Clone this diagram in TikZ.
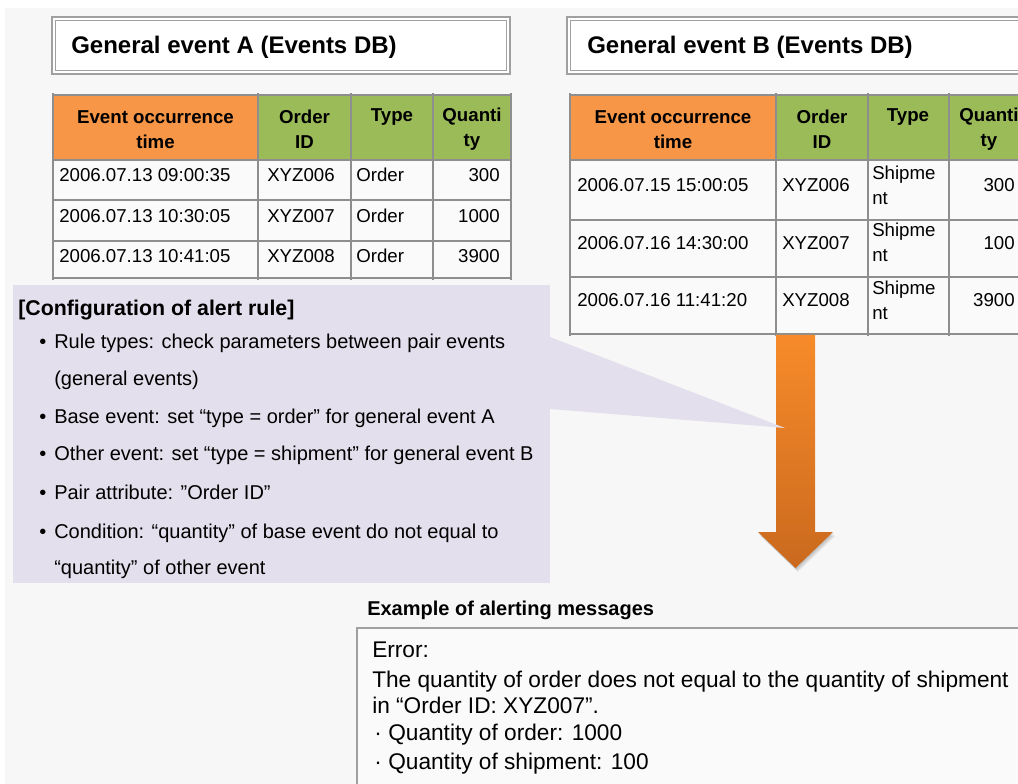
\documentclass[tikz,border=0pt]{standalone}
\usepackage{fontspec}
\setmainfont{Liberation Sans}
\definecolor{pagebg}{HTML}{F7F7F7}
\definecolor{cellbg}{HTML}{FAFAFA}
\definecolor{hdrorange}{HTML}{F79646}
\definecolor{hdrgreen}{HTML}{9BBB59}
\definecolor{gridgray}{HTML}{8E8E8E}
\definecolor{boxgray}{HTML}{A0A0A0}
\definecolor{lav}{HTML}{E4DFEC}
\definecolor{arrowtop}{HTML}{F78B2A}
\definecolor{arrowbot}{HTML}{CA691E}
\begin{document}
\begin{tikzpicture}[x=0.75pt,y=-0.75pt,
  dbtitle/.style={font=\fontsize{18}{22}\selectfont\bfseries, anchor=base west, inner sep=0pt},
  hdrtext/.style={font=\fontsize{14}{18.75}\selectfont\bfseries, align=center, inner sep=0pt},
  celltext/.style={font=\fontsize{14}{18}\selectfont, inner sep=0pt, anchor=base west},
  numtext/.style={celltext, anchor=base east},
  grid/.style={draw=gridgray, line width=1.5pt},
  ruletitle/.style={font=\fontsize{16}{20}\selectfont\bfseries, inner sep=0pt, anchor=base west},
  ruletext/.style={font=\fontsize{15}{18}\selectfont, inner sep=0pt, anchor=base west},
  msghead/.style={font=\fontsize{15}{18}\selectfont\bfseries, inner sep=0pt, anchor=base west},
  msgtext/.style={font=\fontsize{17}{20}\selectfont, inner sep=0pt, anchor=base west},
]
\useasboundingbox (0,0) rectangle (1018,784);
\clip (0,0) rectangle (1018,784);
% page
\fill[white] (0,0) rectangle (1018,784);
\fill[pagebg] (5,8) rectangle (1018,784);

% ---------- title boxes ----------
\fill[white] (52,17) rectangle (510,74);
\draw[boxgray, line width=1.4pt] (52,17) rectangle (510,74);
\draw[boxgray, line width=0.7pt] (55.5,20.5) rectangle (506.5,70.5);
\node[dbtitle] (titleA) at (71,54) {General event A (Events DB)};

\fill[white] (567,17) rectangle (1030,74);
\draw[boxgray, line width=1.4pt] (567,17) rectangle (1030,74);
\draw[boxgray, line width=0.7pt] (570.5,20.5) rectangle (1026.5,70.5);
\node[dbtitle] (titleB) at (587,54) {General event B (Events DB)};

% ---------- table A ----------
\fill[hdrorange] (53,95) rectangle (258,160);
\fill[hdrgreen] (258,95) rectangle (511,160);
\fill[cellbg] (53,160) rectangle (511,278);
\foreach \y in {95,160,200,241,278} \draw[grid] (53,\y) -- (511,\y);
\foreach \x in {53,258,351,433,511} \draw[grid] (\x,93) -- (\x,280);

\node[hdrtext] (aH1) at (155.5,129.5) {Event occurrence\\time};
\node[hdrtext] (aH2) at (304.5,129.5) {Order\\ID};
\node[hdrtext] (aH3) at (392,117) {Type};
\node[hdrtext] (aH4) at (472,129.5) {Quanti\\ty};

\node[celltext] (aT1) at (59,182) {2006.07.13 09:00:35};
\node[celltext] (aT2) at (59,223) {2006.07.13 10:30:05};
\node[celltext] (aT3) at (59,263) {2006.07.13 10:41:05};
\node[celltext] (aI1) at (267,182) {XYZ006};
\node[celltext] (aI2) at (267,223) {XYZ007};
\node[celltext] (aI3) at (267,263) {XYZ008};
\node[celltext] (aY1) at (356,182) {Order};
\node[celltext] (aY2) at (356,223) {Order};
\node[celltext] (aY3) at (356,263) {Order};
\node[numtext] (aQ1) at (500,182) {300};
\node[numtext] (aQ2) at (500,223) {1000};
\node[numtext] (aQ3) at (500,263) {3900};

% ---------- table B ----------
\fill[hdrorange] (570,95) rectangle (776,160);
\fill[hdrgreen] (776,95) rectangle (1030,160);
\fill[cellbg] (570,160) rectangle (1030,334);
\foreach \y in {95,160,220,277,334} \draw[grid] (570,\y) -- (1030,\y);
\foreach \x in {570,776,868,949} \draw[grid] (\x,93) -- (\x,336);

\node[hdrtext] (bH1) at (673,129.5) {Event occurrence\\time};
\node[hdrtext] (bH2) at (822,129.5) {Order\\ID};
\node[hdrtext] (bH3) at (908,117) {Type};
\node[hdrtext] (bH4) at (989,129.5) {Quanti\\ty};

\node[celltext] (bT1) at (577,192) {2006.07.15 15:00:05};
\node[celltext] (bT2) at (577,250) {2006.07.16 14:30:00};
\node[celltext] (bT3) at (577,307) {2006.07.16 11:41:20};
\node[celltext] (bI1) at (782,192) {XYZ006};
\node[celltext] (bI2) at (782,250) {XYZ007};
\node[celltext] (bI3) at (782,307) {XYZ008};
\node[celltext] (bY1a) at (872,180) {Shipme};
\node[celltext] (bY1b) at (872,205) {nt};
\node[celltext] (bY2a) at (872,237) {Shipme};
\node[celltext] (bY2b) at (872,262) {nt};
\node[celltext] (bY3a) at (872,295) {Shipme};
\node[celltext] (bY3b) at (872,320) {nt};
\node[numtext] (bQ1) at (1015,192) {300};
\node[numtext] (bQ2) at (1015,250) {100};
\node[numtext] (bQ3) at (1015,307) {3900};

% ---------- downward block arrow with a soft shadow under its head ----------
\foreach \d in {1,2,3,4}
  \fill[black, opacity=0.06] (758+\d*0.6,532+\d) -- (833+\d*0.6,532+\d)
    -- (795.5+\d*0.6,568+\d) -- cycle;
\shade[top color=arrowtop, bottom color=arrowbot]
  (776,335) -- (815,335) -- (815,532) -- (833,532) -- (795.5,568)
  -- (758,532) -- (776,532) -- cycle;

% ---------- alert rule callout ----------
\node[fill=lav, inner sep=0pt, anchor=north west, minimum width=537.5*0.75pt,
      minimum height=298*0.75pt] (rule) at (12.5,285) {};
\coordinate (tip) at (785,428);
\fill[lav] (550,337) -- (tip) -- (550,409) -- cycle;

\node[ruletitle] (ruleHead) at (18,316) {[Configuration of alert rule]};
\node[ruletext] (rb1) at (39,349) {•};
\node[ruletext] (rl1) at (54,349) {Rule types: check parameters between pair events};
\node[ruletext] (rl1b) at (54,386) {(general events)};
\node[ruletext] (rb2) at (39,423) {•};
\node[ruletext] (rl2) at (54,423) {Base event: set “type = order” for general event A};
\node[ruletext] (rb3) at (39,460) {•};
\node[ruletext] (rl3) at (54,460) {Other event: set “type = shipment” for general event B};
\node[ruletext] (rb4) at (39,499) {•};
\node[ruletext] (rl4) at (54,499) {Pair attribute: ”Order ID”};
\node[ruletext] (rb5) at (39,538) {•};
\node[ruletext] (rl5) at (54,538) {Condition: “quantity” of base event do not equal to};
\node[ruletext] (rl5b) at (54,574) {“quantity” of other event};

% ---------- example message ----------
\node[msghead] (msgHead) at (367,615) {Example of alerting messages};
\fill[cellbg] (357,628) rectangle (1030,800);
\draw[boxgray, line width=1.5pt] (357,800) -- (357,628) -- (1030,628);
\node[msgtext] (m1) at (372,657) {Error:};
\node[msgtext] (m2) at (372,687) {The quantity of order does not equal to the quantity of shipment};
\node[msgtext] (m3) at (372,713) {in “Order ID: XYZ007”.};
\node[msgtext] (m4d) at (374,740) {·};
\node[msgtext] (m4) at (388,740) {Quantity of order: 1000};
\node[msgtext] (m5d) at (374,769) {·};
\node[msgtext] (m5) at (388,769) {Quantity of shipment: 100};
\end{tikzpicture}
\end{document}
